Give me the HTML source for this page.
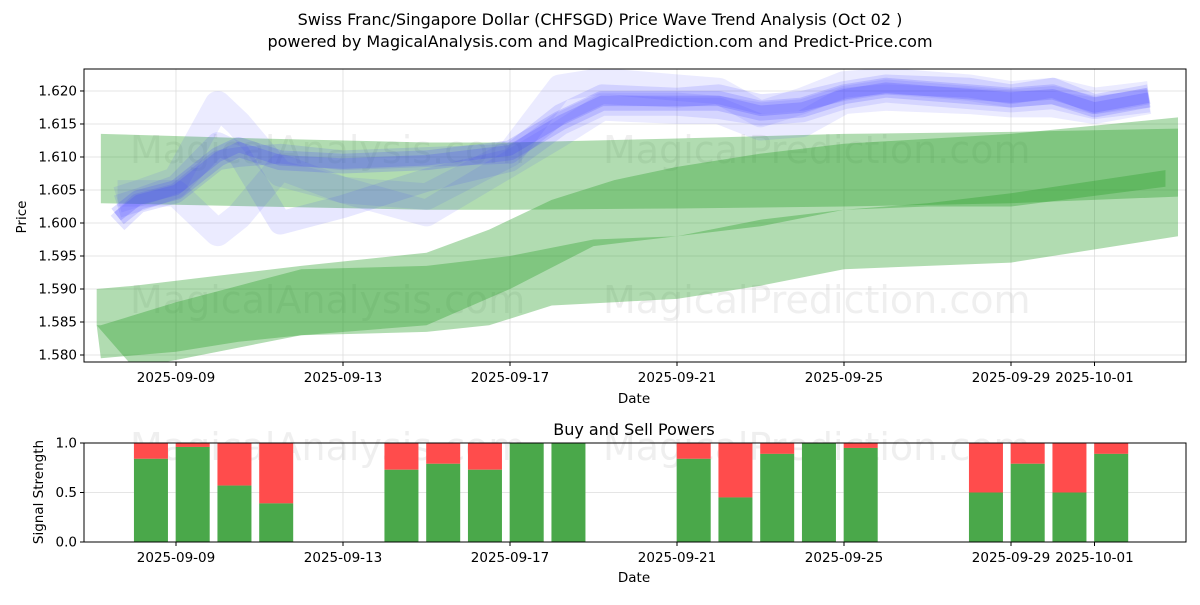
<!DOCTYPE html>
<html><head><meta charset="utf-8"><style>
body{margin:0;background:#fff;}
svg text{font-family:"DejaVu Sans","Liberation Sans",sans-serif;}
</style></head><body>
<svg id="c" width="1200" height="600" xmlns="http://www.w3.org/2000/svg"></svg>
<script>
const tickDays=[0,4,8,12,16,20,22];
const tickLabels=["2025-09-09","2025-09-13","2025-09-17","2025-09-21","2025-09-25","2025-09-29","2025-10-01"];
const priceTicks=[1.580,1.585,1.590,1.595,1.600,1.605,1.610,1.615,1.620];
const blueDays=[-1.4,-0.9,0,1,1.5,2.5,4,6,8,9.2,10.2,12,13,14,15,16,17,19,20,21,22,23.3];
const blueMain=[1.601,1.6035,1.605,1.610,1.6115,1.6095,1.609,1.6095,1.611,1.6155,1.6185,1.6185,1.6185,1.617,1.6175,1.6195,1.6205,1.6195,1.619,1.6195,1.6175,1.619];
const blueV2=[1.6045,1.6045,1.6065,1.618,1.615,1.6075,1.605,1.604,1.6105,1.6205,1.6215,1.6205,1.620,1.6165,1.6185,1.621,1.6215,1.6205,1.6195,1.620,1.6185,1.6195];
const blueV3=[1.6035,1.6045,1.6045,1.5985,1.601,1.6085,1.605,1.6015,1.609,1.6135,1.6175,1.617,1.617,1.6145,1.615,1.6185,1.619,1.6185,1.618,1.618,1.617,1.6185];
const blueV4=[1.6025,1.6035,1.6055,1.612,1.6105,1.600,1.6025,1.6065,1.6095,1.615,1.618,1.618,1.6175,1.6165,1.617,1.619,1.620,1.619,1.6185,1.619,1.6175,1.6185];
const blueV5=[1.600,1.603,1.6045,1.6095,1.610,1.6105,1.6095,1.610,1.6105,1.6165,1.6195,1.619,1.6195,1.618,1.6185,1.620,1.621,1.6205,1.6195,1.6205,1.618,1.6195];
const g1Days=[-1.8,2,6,8,12,16,20,24];
const g1Upper=[1.6135,1.6128,1.6122,1.6122,1.6128,1.6135,1.6138,1.6143];
const g1Lower=[1.603,1.6025,1.602,1.602,1.6022,1.6025,1.603,1.604];
const g2Days=[-1.9,-1,1,3,6,7.5,9,10.5,12,14,16,20,24];
const g2Upper=[1.590,1.5905,1.592,1.5935,1.5955,1.599,1.6035,1.6065,1.6085,1.6105,1.612,1.6135,1.616];
const g2Lower=[1.5845,1.578,1.5805,1.583,1.5835,1.5845,1.5875,1.588,1.5885,1.5905,1.593,1.594,1.598];
const g3Days=[-1.9,-1.8,0,1.5,3,6,8,10,12,14,16,18,20,23.7];
const g3Upper=[1.5845,1.5845,1.588,1.5905,1.593,1.5935,1.595,1.5975,1.598,1.6005,1.602,1.603,1.6045,1.608];
const g3Lower=[1.5845,1.5795,1.5805,1.582,1.583,1.5845,1.590,1.5965,1.598,1.5995,1.602,1.6025,1.6025,1.6055];
const barDays=[-0.6,0.4,1.4,2.4,5.4,6.4,7.4,8.4,9.4,12.4,13.4,14.4,15.4,16.4,19.4,20.4,21.4,22.4];
const buyVals=[0.84,0.96,0.57,0.39,0.73,0.79,0.73,1.0,1.0,0.84,0.45,0.89,1.0,0.95,0.5,0.79,0.5,0.89];

const S=document.getElementById('c');const NS='http://www.w3.org/2000/svg';
function mk(t,a,txt){const e=document.createElementNS(NS,t);for(const k in a)e.setAttribute(k,a[k]);if(txt!==undefined)e.textContent=txt;S.appendChild(e);return e;}
const L=84,R=1186,T1=69,B1=362,T2=443,B2=542;
const X=d=>176+d*41.75;
const Y=p=>B1-(p-1.57894)/(1.62333-1.57894)*(B1-T1);
const Y2=v=>B2-v*(B2-T2);
const FT=13.5;
let e=mk('text',{x:600,y:25,'text-anchor':'middle','font-size':16},'Swiss Franc/Singapore Dollar (CHFSGD) Price Wave Trend Analysis (Oct 02 )');

e=mk('text',{x:600,y:47,'text-anchor':'middle','font-size':16},'powered by MagicalAnalysis.com and MagicalPrediction.com and Predict-Price.com');

priceTicks.forEach(p=>{const l=mk('line',{x1:L,x2:R,y1:Y(p),y2:Y(p),stroke:'#ddd','stroke-width':0.8});
const t=mk('text',{x:L-7,y:Y(p)+4.5,'text-anchor':'end','font-size':FT},p.toFixed(3));
mk('line',{x1:L-4,x2:L,y1:Y(p),y2:Y(p),stroke:'#000'});});
tickDays.forEach((d,i)=>{const l=mk('line',{x1:X(d),x2:X(d),y1:T1,y2:B1,stroke:'#ddd','stroke-width':0.8});
mk('line',{x1:X(d),x2:X(d),y1:B1,y2:B1+4,stroke:'#000'});
const t=mk('text',{x:X(d),y:B1+20,'text-anchor':'middle','font-size':FT},tickLabels[i]);
const l2=mk('line',{x1:X(d),x2:X(d),y1:T2,y2:B2,stroke:'#ddd','stroke-width':0.8});
mk('line',{x1:X(d),x2:X(d),y1:B2,y2:B2+4,stroke:'#000'});
const t2=mk('text',{x:X(d),y:B2+20,'text-anchor':'middle','font-size':FT},tickLabels[i]);});
[[130,163,'MagicalAnalysis.com'],[603,163,'MagicalPrediction.com'],[130,313,'MagicalAnalysis.com'],[603,313,'MagicalPrediction.com'],[130,460,'MagicalAnalysis.com'],[603,460,'MagicalPrediction.com']].forEach(w=>{const t=mk('text',{x:w[0],y:w[1],'font-size':38,fill:'rgba(120,120,120,0.12)'},w[2]);});
const cp=mk('clipPath',{id:'cl'});const cr=document.createElementNS(NS,'rect');cr.setAttribute('x',L);cr.setAttribute('y',T1);cr.setAttribute('width',R-L);cr.setAttribute('height',B1-T1);cp.appendChild(cr);
function band(days,up,lo,fill,name){let pts=days.map((d,i)=>X(d)+','+Y(up[i]));for(let i=days.length-1;i>=0;i--)pts.push(X(days[i])+','+Y(lo[i]));
const p=mk('polygon',{points:pts.join(' '),fill:fill,'clip-path':'url(#cl)'});}
const gf='rgba(44,160,44,0.37)';
band(g1Days,g1Upper,g1Lower,gf,'green-band-upper');
band(g2Days,g2Upper,g2Lower,gf,'green-band-wide');
band(g3Days,g3Upper,g3Lower,gf,'green-band-lower');
function blue(vals,hw,a,name){const p=mk('path',{d:'M'+blueDays.map((d,i)=>X(d)+','+Y(vals[i])).join(' L'),fill:'none',stroke:'rgba(60,60,255,'+a+')','stroke-width':hw*6600,'stroke-linejoin':'round','stroke-linecap':'butt','clip-path':'url(#cl)'});}
blue(blueV2,0.004,0.1,'blue-wave-2');
blue(blueV3,0.004,0.1,'blue-wave-3');
blue(blueV4,0.0035,0.12,'blue-wave-4');
blue(blueV5,0.003,0.14,'blue-wave-5');
blue(blueMain,0.003,0.18,'blue-wave-main');
blue(blueMain,0.0016,0.2,'blue-wave-core');
e=mk('rect',{x:L,y:T1,width:R-L,height:B1-T1,fill:'none',stroke:'#000','stroke-width':1});
e=mk('text',{x:26,y:217,'text-anchor':'middle','font-size':FT,transform:'rotate(-90 26 217)'},'Price');
e=mk('text',{x:634,y:403,'text-anchor':'middle','font-size':FT},'Date');
[0,0.5,1].forEach(v=>{if(v>0&&v<1){const l=mk('line',{x1:L,x2:R,y1:Y2(v),y2:Y2(v),stroke:'#ddd','stroke-width':0.8});}
mk('line',{x1:L-4,x2:L,y1:Y2(v),y2:Y2(v),stroke:'#000'});
const t=mk('text',{x:L-7,y:Y2(v)+4.5,'text-anchor':'end','font-size':FT},v.toFixed(1));});
barDays.forEach((d,i)=>{const x=X(d)-17;
const r=mk('rect',{x:x,y:Y2(1),width:34,height:Y2(buyVals[i])-Y2(1),fill:'#ff4c4c'});
const g=mk('rect',{x:x,y:Y2(buyVals[i]),width:34,height:Y2(0)-Y2(buyVals[i]),fill:'#4aa84a'});});
e=mk('rect',{x:L,y:T2,width:R-L,height:B2-T2,fill:'none',stroke:'#000','stroke-width':1});
e=mk('text',{x:634,y:435,'text-anchor':'middle','font-size':16},'Buy and Sell Powers');
e=mk('text',{x:43,y:492,'text-anchor':'middle','font-size':FT,transform:'rotate(-90 43 492)'},'Signal Strength');
e=mk('text',{x:634,y:582,'text-anchor':'middle','font-size':FT},'Date');
</script>
</body></html>
